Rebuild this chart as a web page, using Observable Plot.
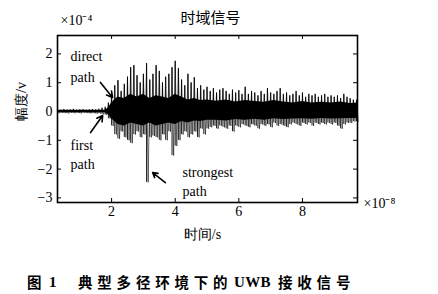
<!DOCTYPE html>
<html>
<head>
<meta charset="utf-8">
<script src="https://cdn.jsdelivr.net/npm/d3@7"></script>
<script src="https://cdn.jsdelivr.net/npm/@observablehq/plot@0.6"></script>
<style>
  body { margin: 0; background: #fff; width: 438px; height: 294px; overflow: hidden; position: relative; }
  #chart svg { display: block; }
  .caption span {
    position: absolute; top: 273px;
    font-family: "Noto Sans CJK SC", sans-serif; font-weight: 700; font-size: 14.5px;
    line-height: 18px; letter-spacing: 4.8px; white-space: pre; color: #000;
  }
  .caption span.latin { font-family: "Liberation Serif", serif; letter-spacing: 0.3px; font-size: 15px; }
</style>
</head>
<body>
<div id="chart"></div>
<div class="caption">
  <span style="left:27px">图</span><span class="latin" style="left:49px">1</span><span style="left:78px">典型多径环境下的</span><span class="latin" style="left:234px">UWB</span><span style="left:278px">接收信号</span>
</div>
<script>
// Received UWB signal in a multipath environment (amplitude ×1e-4 V, time ×1e-8 s)
const xTicks = [2, 4, 6, 8];
const yTicks = [-3, -2, -1, 0, 1, 2];
const xDomain = [0.3, 9.73];
const yDomain = [-3.16, 2.64];

// Peak envelope of the waveform, one sample every 0.1 (×1e-8 s) starting at 0.3
const sampleStart = 0.3;
const sampleStep = 0.1;
const peakHigh = [
  0.06, 0.05, 0.07, 0.05, 0.06, 0.08, 0.05, 0.06, 0.07, 0.05,
  0.06, 0.07, 0.06, 0.08, 0.12, 0.15, 0.3, 0.6, 0.9, 1.08,
  0.7, 0.95, 1.2, 1.53, 1.6, 1.25, 1.0, 1.3, 1.67, 1.1,
  1.3, 1.6, 1.4, 1.0, 1.2, 1.3, 1.53, 1.75, 1.5, 1.1,
  0.9, 1.3, 1.0, 1.18, 0.8, 0.9, 0.75, 0.85, 0.7, 0.8,
  0.65, 0.75, 0.8, 0.7, 0.6, 0.75, 0.65, 0.73, 0.6, 0.85,
  0.6, 0.7, 0.65, 0.55, 0.7, 0.6, 0.8, 0.65, 0.6, 0.7,
  0.8, 0.6, 0.65, 0.55, 0.6, 0.7, 0.55, 0.65, 0.5, 0.6,
  0.55, 0.6, 0.5, 0.55, 0.6, 0.5, 0.55, 0.5, 0.55, 0.45,
  0.6, 0.5, 0.45, 0.4, 0.4
];
const peakLow = [
  -0.06, -0.05, -0.06, -0.07, -0.05, -0.06, -0.05, -0.07, -0.05, -0.06,
  -0.07, -0.06, -0.08, -0.07, -0.1, -0.12, -0.25, -0.5, -0.8, -0.95,
  -0.7, -0.9, -1.0, -1.1, -0.8, -0.7, -0.9, -0.8, -2.46, -0.9,
  -0.85, -0.9, -1.0, -0.8, -1.0, -0.7, -1.53, -1.2, -1.0, -0.8,
  -0.7, -0.9, -0.8, -0.7, -0.9, -0.6, -0.8, -0.6, -0.55, -0.5,
  -0.6, -0.5, -0.55, -0.6, -0.5, -0.7, -0.5, -0.55, -0.45, -0.5,
  -0.55, -0.45, -0.5, -0.6, -0.45, -0.5, -0.45, -0.55, -0.4, -0.5,
  -0.45, -0.5, -0.55, -0.45, -0.4, -0.45, -0.5, -0.4, -0.45, -0.4,
  -0.5, -0.4, -0.45, -0.4, -0.45, -0.4, -0.45, -0.4, -0.5, -0.6,
  -0.45, -0.4, -0.4, -0.35, -0.35
];

// Dense core band of the waveform
const coreTime = [
  0.3, 1.8, 1.9, 2.0, 2.2, 2.4, 2.6, 2.8, 3.0, 3.2,
  3.4, 3.6, 3.8, 4.0, 4.2, 4.4, 4.6, 4.8, 5.0, 5.3,
  5.6, 5.9, 6.2, 6.5, 6.8, 7.1, 7.4, 7.7, 8.0, 8.3,
  8.6, 8.9, 9.2, 9.5, 9.73
];
const coreHigh = [
  0.04, 0.04, 0.12, 0.3, 0.5, 0.45, 0.6, 0.5, 0.6, 0.45,
  0.55, 0.5, 0.45, 0.6, 0.5, 0.4, 0.45, 0.38, 0.4, 0.36,
  0.4, 0.33, 0.38, 0.35, 0.32, 0.38, 0.33, 0.3, 0.35, 0.3,
  0.32, 0.3, 0.33, 0.28, 0.3
];
const coreLow = [
  -0.04, -0.04, -0.1, -0.25, -0.45, -0.5, -0.4, -0.45, -0.5, -0.4,
  -0.5, -0.45, -0.4, -0.45, -0.35, -0.4, -0.33, -0.35, -0.3, -0.3,
  -0.33, -0.28, -0.3, -0.27, -0.3, -0.25, -0.28, -0.26, -0.25, -0.27,
  -0.24, -0.26, -0.25, -0.24, -0.24
];

// Path annotations
const labels = [
  {t: 0.71, v: 1.91, text: "direct"},
  {t: 0.71, v: 1.18, text: "path"},
  {t: 0.71, v: -1.18, text: "first"},
  {t: 0.71, v: -1.84, text: "path"},
  {t: 4.23, v: -2.12, text: "strongest"},
  {t: 4.23, v: -2.78, text: "path"}
];
const arrows = [
  {t1: 1.65, v1: 1.01, t2: 2.03, v2: 0.49},
  {t1: 1.34, v1: -0.73, t2: 1.72, v2: -0.14},
  {t1: 3.69, v1: -2.47, t2: 3.29, v2: -2.12}
];

const peaks = peakHigh.map((hi, i) => ({t: sampleStart + i * sampleStep, hi, lo: peakLow[i]}));
const core = coreTime.map((t, i) => ({t, hi: coreHigh[i], lo: coreLow[i]}));
// waveform trace swinging from each peak to the following trough
const trace = peaks.flatMap((d) => [{t: d.t, v: d.hi}, {t: d.t + sampleStep / 2, v: d.lo}]);

const serif = "Liberation Serif, Times New Roman, serif";
const cjk = "Noto Sans CJK SC";

const chart = Plot.plot({
  width: 438,
  height: 250,
  marginTop: 35,
  marginBottom: 48,
  marginLeft: 57,
  marginRight: 81,
  style: {fontSize: "14px", fontFamily: serif, color: "#000", background: "#fff"},
  x: {domain: xDomain, label: null},
  y: {domain: yDomain, label: null},
  marks: [
    Plot.areaY(core, {x: "t", y1: "lo", y2: "hi", fill: "#000"}),
    Plot.line(trace, {x: "t", y: "v", stroke: "#000", strokeWidth: 0.7, strokeOpacity: 0.8}),
    Plot.ruleX(peaks, {x: "t", y1: "lo", y2: "hi", stroke: "#000", strokeWidth: 0.9}),
    Plot.frame({stroke: "#000", strokeWidth: 1.6}),
    Plot.axisX(xTicks, {anchor: "bottom", tickSize: 0, tickPadding: 4, label: null, fontSize: 14, fontFamily: serif}),
    Plot.axisY(yTicks, {anchor: "left", tickSize: 0, tickPadding: 5, label: null, fontSize: 14, fontFamily: serif}),
    // inward tick marks on all four sides of the box
    Plot.ruleX(xTicks, {insetTop: 163, stroke: "#000"}),
    Plot.ruleX(xTicks, {insetBottom: 163, stroke: "#000"}),
    Plot.ruleY(yTicks, {insetRight: 296, stroke: "#000"}),
    Plot.ruleY(yTicks, {insetLeft: 296, stroke: "#000"}),
    Plot.arrow(arrows, {x1: "t1", y1: "v1", x2: "t2", y2: "v2", stroke: "#000", strokeWidth: 1.6, headLength: 6}),
    Plot.text(labels, {x: "t", y: "v", text: "text", textAnchor: "start", lineAnchor: "middle", fontSize: 14, fontFamily: serif, fill: "#000"}),
    Plot.text(["时域信号"], {frameAnchor: "top", dx: 3, dy: -17, lineAnchor: "middle", fontSize: 15, fontFamily: cjk, fill: "#000"}),
    Plot.text(["×10⁻⁴"], {frameAnchor: "top-left", dx: 3, dy: -15, textAnchor: "start", lineAnchor: "middle", fontSize: 14, fontFamily: serif, fill: "#000"}),
    Plot.text(["×10⁻⁸"], {frameAnchor: "bottom-right", dx: 6, dy: 1, textAnchor: "start", lineAnchor: "middle", fontSize: 14, fontFamily: serif, fill: "#000"}),
    Plot.text(["时间/s"], {frameAnchor: "bottom", dx: -5, dy: 32, lineAnchor: "middle", fontSize: 14, fontFamily: serif, fill: "#000"}),
    Plot.text(["幅度/v"], {frameAnchor: "left", dx: -36, dy: 2, rotate: -90, lineAnchor: "middle", fontSize: 14, fontFamily: serif, fill: "#000"})
  ]
});

document.getElementById("chart").append(chart);
</script>
</body>
</html>
